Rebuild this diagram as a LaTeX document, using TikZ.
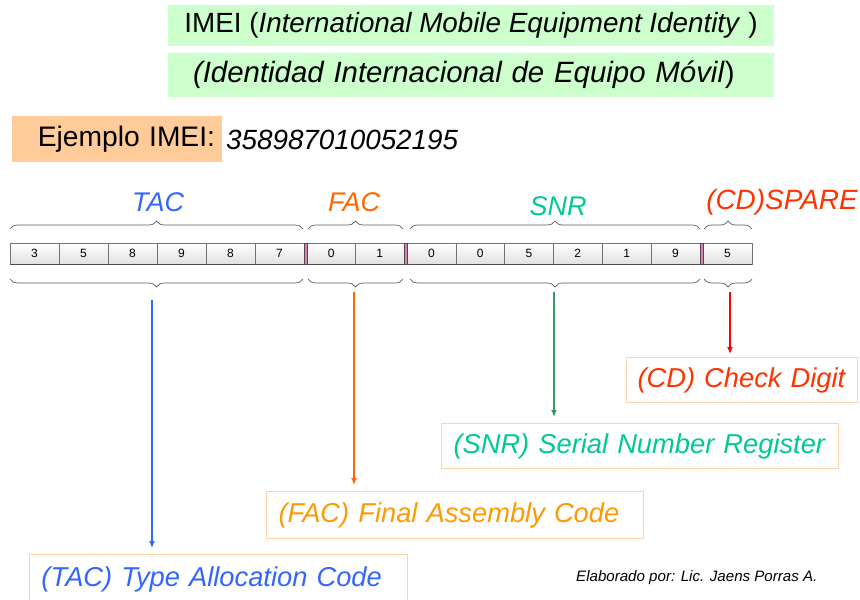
\documentclass[tikz,border=0pt]{standalone}
\usepackage{fontspec}
\setmainfont{Liberation Sans}
\usepackage{tikz}
\usetikzlibrary{decorations.pathreplacing, arrows.meta}

\definecolor{tacblue}{HTML}{3366FF}
\definecolor{facorange}{HTML}{FF6600}
\definecolor{faclight}{HTML}{FF9900}
\definecolor{snrgreen}{HTML}{00C896}
\definecolor{snrarrow}{HTML}{339966}
\definecolor{cdred}{HTML}{FF3300}
\definecolor{titlegreen}{HTML}{CCFFCC}
\definecolor{peach}{HTML}{FFCC99}
\definecolor{peachline}{HTML}{FFD3A8}
\definecolor{sepink}{HTML}{E07AB8}

\tikzset{
  bigfont/.style={font=\fontsize{27.3}{32}\selectfont},
  biglabel/.style={font=\fontsize{27}{30}\selectfont\itshape},
  cellbox/.style={draw=black!55, top color=white, bottom color=black!12,
    minimum width=48.8pt, minimum height=21pt, inner sep=0pt,
    font=\fontsize{12}{14}\selectfont},
  sepbar/.style={draw=black!70, fill=sepink, minimum width=3pt,
    minimum height=21pt, inner sep=0pt},
  brace/.style={decorate, decoration={brace, amplitude=8pt}, draw=black!65, line width=0.7pt},
  infobox/.style={draw=peachline, line width=1pt, anchor=north west,
    inner xsep=12pt, inner ysep=0pt, align=left, bigfont},
  pointer/.style={-{Latex[length=7pt, width=6pt]}, line width=1.3pt, shorten >=6pt}
}

\begin{document}
\begin{tikzpicture}[x=1pt, y=-1pt]
        \useasboundingbox (0,0) rectangle (860,600);

        \node[fill=titlegreen, minimum width=606pt, minimum height=41pt,
              font=\fontsize{27.8}{32}\selectfont] at (471, 25.5) (title)
            {IMEI (\textit{International Mobile Equipment Identity} )};
        \node[fill=titlegreen, minimum height=44pt, text width=586pt, inner xsep=10pt, align=left,
              font=\fontsize{29.4}{34}\selectfont] at (471, 75) (subtitle)
            {\hspace*{15pt}\textit{(Identidad Internacional de Equipo Móvil})};

        \node[fill=peach, minimum width=210pt, minimum height=46pt, text width=196pt, inner xsep=7pt,
              align=right, font=\fontsize{28.2}{32}\selectfont] at (117, 139) (example) {Ejemplo IMEI:};
        \node[anchor=west, inner sep=0pt, font=\fontsize{27.8}{32}\selectfont] at (226, 140) (number)
            {\textit{358987010052195}};

        % cells
        \foreach \d [count=\i] in {3,5,8,9,8,7}
            \node[cellbox] at ({10+49*(\i-0.5)}, 253.5) (t\i) {\d};
        \foreach \d [count=\i] in {0,1}
            \node[cellbox, minimum width=48.5pt] at ({307+48.5*(\i-0.5)}, 253.5) (f\i) {\d};
        \foreach \d [count=\i] in {0,0,5,2,1,9}
            \node[cellbox] at ({407+48.8*(\i-0.5)}, 253.5) (s\i) {\d};
        \node[cellbox, minimum width=49pt] at (727.5, 253.5) (c1) {5};

        \node[sepbar] at (305.5, 253.5) (sep1) {};
        \node[sepbar] at (405.5, 253.5) (sep2) {};
        \node[sepbar] at (701.5, 253.5) (sep3) {};
        \draw [black!70, line width=1.2pt] (t1.south west) -- (c1.south east);

        % braces
        \draw [brace] (10,229) -- (303,229);
        \draw [brace] (308,229) -- (403,229);
        \draw [brace] (410,229) -- (700,229);
        \draw [brace] (704,229) -- (752,229);
        \draw [brace] (303,279) -- (10,279);
        \draw [brace] (403,279) -- (308,279);
        \draw [brace] (700,279) -- (410,279);
        \draw [brace] (752,279) -- (704,279);

        \node[biglabel, text=tacblue] at (158, 202) (tac) {TAC};
        \node[biglabel, text=facorange] at (354, 202) (fac) {FAC};
        \node[biglabel, text=snrgreen] at (558, 206) (snr) {SNR};
        \node[biglabel, text=cdred, font=\fontsize{27.9}{30}\selectfont\itshape] at (782, 202) (spare) {(CD)SPARE};

        % boxes
        \node[infobox, text=cdred, text width=211pt, inner xsep=10pt, minimum height=45pt] at (626, 357) (cdbox)
            {\hspace*{1pt}\textit{(CD) Check Digit}};
        \node[infobox, text=snrgreen, text width=373pt, minimum height=45pt] at (441, 423) (snrbox)
            {\textit{(SNR) Serial Number Register}};
        \node[infobox, text=faclight, text width=353pt, minimum height=47pt] at (266, 491) (facbox)
            {\textit{(FAC) Final Assembly Code}};
        \node[infobox, text=tacblue, text width=354pt, minimum height=50pt] at (29, 554) (tacbox)
            {\textit{(TAC) Type Allocation Code}};

        \node[font=\fontsize{15.1}{18}\selectfont\itshape, anchor=west, inner sep=0pt] at (576, 578) (author)
            {Elaborado por: Lic. Jaens Porras A.};

        % arrows
        \coordinate (tacb) at (152, 300);
        \coordinate (facb) at (354, 292);
        \coordinate (snrb) at (554, 292);
        \coordinate (cdb) at (730, 292);
        \draw [pointer, tacblue] (tacb) -- (tacb |- tacbox.north);
        \draw [pointer, facorange] (facb) -- (facb |- facbox.north);
        \draw [pointer, snrarrow] (snrb) -- (snrb |- snrbox.north);
        \draw [pointer, red, shorten >=3pt] (cdb) -- (cdb |- cdbox.north);
\end{tikzpicture}
\end{document}
